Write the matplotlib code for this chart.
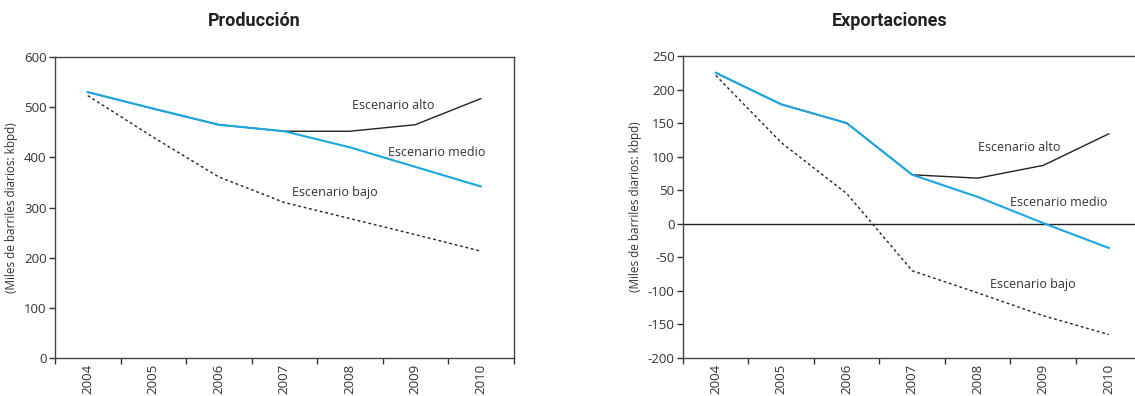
import matplotlib
matplotlib.use("Agg")
import matplotlib.pyplot as plt
import numpy as np

plt.rcParams['font.family'] = ['Open Sans', 'DejaVu Sans']

years = ["2004", "2005", "2006", "2007", "2008", "2009", "2010"]

prod_alto = [530, 497, 465, 452, 452, 465, 517]
prod_medio = [530, 497, 465, 452, 420, 381, 342]
prod_bajo = [523, 440, 361, 310, 278, 246, 213]

exp_alto = [225, 178, 150, 73, 68, 87, 134]
exp_medio = [225, 178, 150, 73, 40, 1, -36]
exp_bajo = [221, 121, 45, -70, -103, -137, -165]

BLUE = "#1ca6e2"
TXT = "#333333"

fig = plt.figure(figsize=(11.35, 3.96), dpi=100)
ax1 = fig.add_axes([55/1135, 1-358/396, 458.5/1135, 301/396])
ax2 = fig.add_axes([683/1135, 1-358/396, 458.5/1135, 302/396])

def style(ax, ylim, yticks):
    x = np.arange(len(years))
    ax.set_xlim(-0.5, len(years) - 0.5)
    ax.set_ylim(*ylim)
    ax.set_yticks(yticks)
    ax.set_yticklabels([str(t) for t in yticks])
    ax.set_xticks(np.arange(-0.5, len(years)), labels=[""] * (len(years) + 1))
    ax.set_xticks(x, minor=True)
    ax.set_xticklabels(years, minor=True, rotation=90)
    ax.tick_params(axis='x', which='major', direction='out', length=4, width=1, color=TXT)
    ax.tick_params(axis='x', which='minor', length=0, pad=4, labelsize=9.5, labelcolor=TXT)
    ax.tick_params(axis='y', direction='out', length=4, width=1, color=TXT, labelsize=9.5, labelcolor=TXT, pad=2)
    for s in ax.spines.values():
        s.set_color("#444444")
        s.set_linewidth(1.0)
    ax.set_ylabel("(Miles de barriles diarios: kbpd)", fontsize=8.5, color=TXT, labelpad=4)
    return x

x = style(ax1, (0, 600), [0, 100, 200, 300, 400, 500, 600])
ax1.plot(x, prod_alto, color="#222222", lw=1.0)
ax1.plot(x, prod_medio, color=BLUE, lw=1.5)
ax1.plot(x, prod_bajo, color="#222222", lw=1.0, linestyle=(0, (2, 2)))
ax1.text(4.03, 504, "Escenario alto", fontsize=9, color=TXT, va='center')
ax1.text(4.58, 410, "Escenario medio", fontsize=9, color=TXT, va='center')
ax1.text(3.12, 329, "Escenario bajo", fontsize=9, color=TXT, va='center')

x = style(ax2, (-200, 250), [-200, -150, -100, -50, 0, 50, 100, 150, 200, 250])
ax2.axhline(0, color="#222222", lw=1.0)
ax2.plot(x, exp_alto, color="#222222", lw=1.0)
ax2.plot(x, exp_medio, color=BLUE, lw=1.5)
ax2.plot(x, exp_bajo, color="#222222", lw=1.0, linestyle=(0, (2, 2)))
ax2.text(4.0, 113, "Escenario alto", fontsize=9, color=TXT, va='center')
ax2.text(4.49, 32, "Escenario medio", fontsize=9, color=TXT, va='center')
ax2.text(4.19, -91, "Escenario bajo", fontsize=9, color=TXT, va='center')

title_font = ['Liberation Sans Narrow', 'Roboto', 'DejaVu Sans']
fig.text(254/1135, 1-21/396, "Producción", ha='center', va='center', fontsize=13,
         fontweight='bold', color="#222222", family=title_font)
fig.text(890/1135, 1-21/396, "Exportaciones", ha='center', va='center', fontsize=13,
         fontweight='bold', color="#222222", family=title_font)

fig.savefig("out.png", dpi=100)
